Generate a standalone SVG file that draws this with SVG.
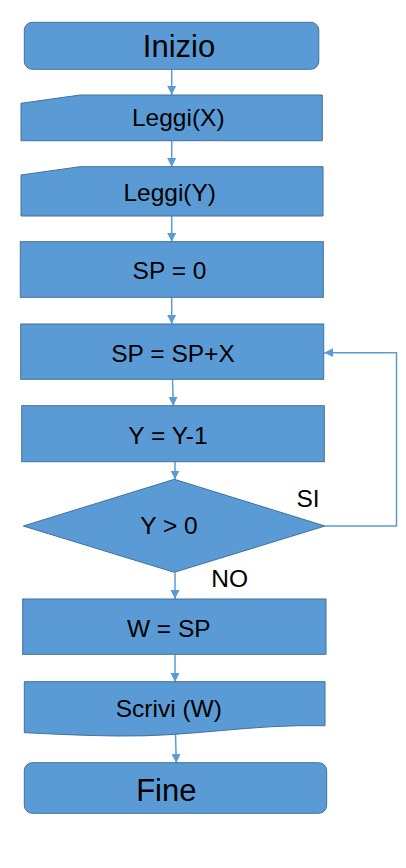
<svg xmlns="http://www.w3.org/2000/svg" width="406" height="868" viewBox="0 0 406 868">
<defs>
<marker id="ah" markerWidth="10" markerHeight="10" refX="9" refY="5" orient="auto" markerUnits="userSpaceOnUse">
<path d="M0,0.5 L9,5 L0,9.5 Z" fill="#5B9BD5"/>
</marker>
<style>
.n{fill:#5B9BD5;stroke:#41719C;stroke-width:1}
.t{font-family:"Liberation Sans",Arial,sans-serif;font-size:24.5px;fill:#000;text-anchor:middle}
.b{font-size:31px}
.c{fill:none;stroke:#5B9BD5;stroke-width:1.5;marker-end:url(#ah)}
</style>
</defs>
<rect width="406" height="868" fill="#fff"/>
<g id="connectors">
<path class="c" d="M171.7,69.5 V95"/>
<path class="c" d="M171.7,141 V167"/>
<path class="c" d="M171.7,216 V242"/>
<path class="c" d="M171.7,297.5 V324"/>
<path class="c" d="M172.5,379.5 L173.3,406"/>
<path class="c" d="M175,462 V479.5"/>
<path class="c" d="M175,572.5 V599"/>
<path class="c" d="M175,654.5 V682"/>
<path class="c" d="M175.5,734 L176.3,763"/>
<path class="c" d="M325,526 H396.5 V352.7 H324.2"/>
</g>
<g id="inizio">
<rect class="n" x="24.3" y="22.3" width="294.5" height="47" rx="8"/>
<text class="t b" x="179" y="56.5">Inizio</text>
</g>
<g id="leggiX">
<path class="n" d="M21,103.3 L80,95 H322.3 V140.7 H21 Z"/>
<text class="t" x="178.3" y="126">Leggi(X)</text>
</g>
<g id="leggiY">
<path class="n" d="M21,175 L80,166.7 H323 V216 H21 Z"/>
<text class="t" x="169.7" y="200.5">Leggi(Y)</text>
</g>
<g id="sp0">
<rect class="n" x="20.3" y="241.7" width="303" height="55.6"/>
<text class="t" x="169.5" y="279">SP = 0</text>
</g>
<g id="spx">
<rect class="n" x="20.7" y="324" width="303" height="55.3"/>
<text class="t" x="173" y="362">SP = SP+X</text>
</g>
<g id="yy1">
<rect class="n" x="21.7" y="405.7" width="302.6" height="56"/>
<text class="t" x="168" y="443.7">Y = Y-1</text>
</g>
<g id="cond">
<path class="n" d="M174.3,479.3 L325,526 L174.3,572.3 L23.3,526 Z"/>
<text class="t" x="169" y="534">Y &gt; 0</text>
</g>
<text class="t" x="308" y="506.7">SI</text>
<text class="t" x="229.7" y="587.3">NO</text>
<g id="wsp">
<rect class="n" x="22.7" y="599" width="303.3" height="55.3"/>
<text class="t" x="168.8" y="636.7">W = SP</text>
</g>
<g id="scrivi">
<path class="n" d="M24.3,681.7 H325 V725.7 C250,724 190,737 120,736 C75,735.5 45,733.5 24.3,732.7 Z"/>
<text class="t" x="168.8" y="717.3">Scrivi (W)</text>
</g>
<g id="fine">
<rect class="n" x="24.3" y="762.7" width="302.4" height="50.6" rx="8"/>
<text class="t b" x="166.3" y="800.7">Fine</text>
</g>
</svg>
